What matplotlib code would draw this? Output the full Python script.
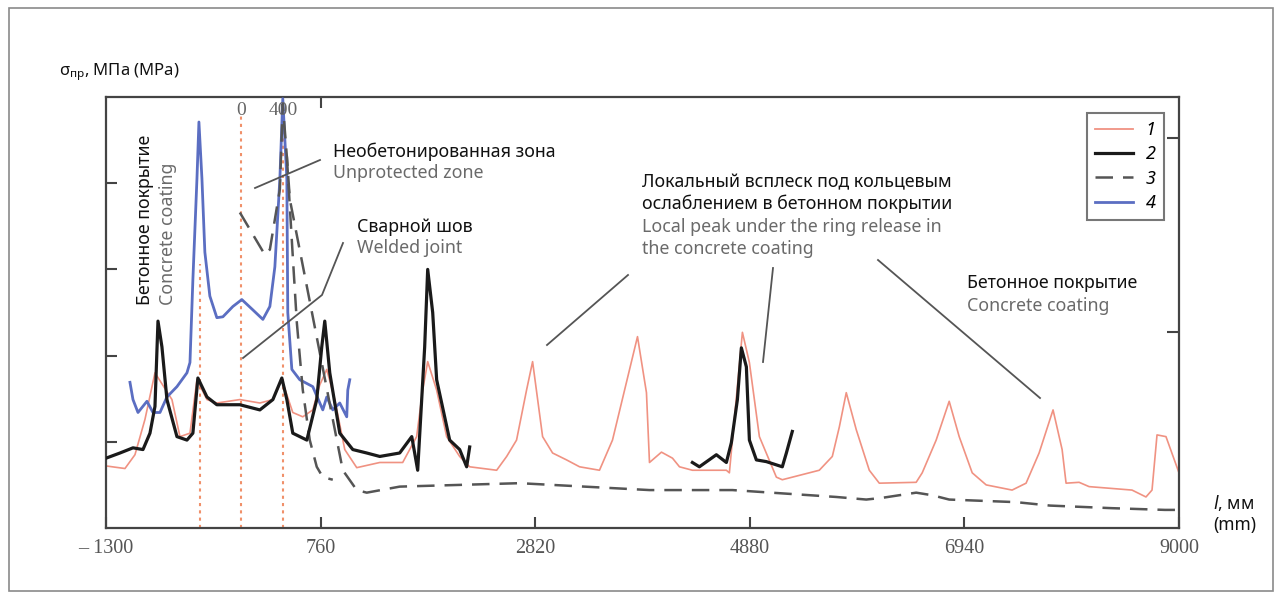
import matplotlib
matplotlib.use('Agg')
import matplotlib.pyplot as plt
from matplotlib.lines import Line2D
from matplotlib.patches import Rectangle

plt.rcParams['font.family'] = ['Noto Sans', 'DejaVu Sans']

# ---------------- data (x in mm, stress in relative units) ----------------
x1 = [-1300, -1118, -1022, -926, -830, -667, -590, -494, -427, -331, -236, -15, 177, 302, 388,
      493, 589, 685, 752, 819, 896, 992, 1107, 1328, 1548, 1682, 1740, 1788, 1874, 1970,
      2095, 2191, 2450, 2546, 2641, 2737, 2795, 2891, 2987, 3121, 3246, 3437, 3562, 3696,
      3802, 3888, 3917, 4032, 4138, 4205, 4329, 4655, 4684, 4809, 4876, 4972, 5135, 5192,
      5547, 5672, 5739, 5806, 5902, 6027, 6123, 6477, 6535, 6669, 6794, 6890, 7015, 7149,
      7398, 7532, 7657, 7791, 7878, 7916, 8041, 8137, 8549, 8683, 8741, 8789, 8875, 9000]
y1 = [0.72, 0.69, 0.85, 1.26, 1.80, 1.49, 1.06, 1.10, 1.72, 1.49, 1.45, 1.49, 1.45, 1.49, 1.72,
      1.34, 1.29, 1.37, 1.66, 1.84, 1.49, 0.91, 0.70, 0.76, 0.76, 1.06, 1.60, 1.93, 1.60, 1.06,
      0.83, 0.71, 0.67, 0.83, 1.02, 1.60, 1.93, 1.06, 0.87, 0.79, 0.71, 0.67, 1.02, 1.69,
      2.22, 1.57, 0.76, 0.88, 0.81, 0.71, 0.67, 0.67, 0.64, 2.27, 1.92, 1.06, 0.59, 0.56,
      0.67, 0.83, 1.17, 1.57, 1.14, 0.67, 0.52, 0.53, 0.64, 1.02, 1.47, 1.06, 0.64, 0.50,
      0.44, 0.52, 0.87, 1.37, 0.91, 0.52, 0.53, 0.48, 0.44, 0.36, 0.44, 1.08, 1.06, 0.64]

x2a = [-1300, -1166, -1041, -945, -878, -830, -801, -763, -715, -619, -523, -466, -418, -331,
       -236, -15, 177, 302, 388, 436, 493, 628, 723, 771, 800, 848, 944, 1069, 1203, 1328,
       1519, 1635, 1663, 1692, 1759, 1788, 1836, 1874, 1999, 2095, 2162, 2191]
y2a = [0.81, 0.87, 0.93, 0.91, 1.10, 1.41, 2.40, 2.10, 1.49, 1.06, 1.02, 1.10, 1.74, 1.52,
       1.43, 1.43, 1.37, 1.49, 1.74, 1.49, 1.10, 1.02, 1.49, 2.10, 2.40, 1.80, 1.10, 0.91, 0.87, 0.83,
       0.87, 1.06, 0.87, 0.67, 2.10, 3.00, 2.50, 1.72, 1.02, 0.91, 0.71, 0.94]
x2b = [4329, 4396, 4559, 4655, 4703, 4761, 4799, 4847, 4876, 4943, 5039, 5192, 5231, 5288]
y2b = [0.76, 0.71, 0.85, 0.76, 0.99, 1.49, 2.09, 1.87, 1.02, 0.79, 0.77, 0.71, 0.87, 1.12]

# curve 3: main trace and the second (steeper) descending branch after the 400 mm peak
x3 = [-15, 225, 273, 369, 397, 436, 465, 656, 848, 973, 1107, 1203, 1519,
      2670, 3917, 4713, 5710, 5998, 6151, 6477, 6631, 6794, 7436, 7763, 8357, 8865, 9000]
y3 = [3.66, 3.17, 3.23, 3.93, 4.92, 4.31, 3.81, 2.63, 1.44, 0.67, 0.44, 0.41, 0.48,
      0.52, 0.44, 0.44, 0.36, 0.33, 0.35, 0.41, 0.38, 0.33, 0.30, 0.26, 0.23, 0.21, 0.21]
x3_branch = [436, 493, 532, 589, 656, 723, 781, 877]
y3_branch = [4.31, 3.15, 2.38, 1.60, 1.02, 0.71, 0.59, 0.56]

x4 = [-1070, -1041, -993, -907, -849, -782, -715, -619, -523, -494, -466, -427, -408, -379,
      -351, -303, -236, -178, -82, 4, 110, 206, 273, 321, 369, 397, 436, 445, 484, 560, 685,
      781, 819, 877, 944, 1011, 1021, 1040]
y4 = [1.69, 1.49, 1.34, 1.47, 1.34, 1.34, 1.52, 1.64, 1.80, 1.92, 2.88, 4.05, 4.71, 4.05,
      3.20, 2.69, 2.44, 2.45, 2.57, 2.65, 2.53, 2.42, 2.57, 3.03, 4.05, 4.98, 4.05, 2.50, 1.84,
      1.72, 1.64, 1.37, 1.52, 1.37, 1.45, 1.29, 1.60, 1.72]

marker_x = [-400, 0, 400]
marker_top = [3.06, 4.78, 4.78]
marker_labels = ['0', '400']

x_ticks = [-1300, 760, 2820, 4880, 6940, 9000]
x_tick_labels = ['– 1300', '760', '2820', '4880', '6940', '9000']
series_labels = ['1', '2', '3', '4']

# ---------------- figure ----------------
W, H = 1281, 599
fig = plt.figure(figsize=(W / 100, H / 100), dpi=100)


def fx(px):
    return px / W


def fy(py):
    return 1 - py / H


fig.add_artist(Rectangle((fx(9), fy(591)), fx(1273) - fx(9), fy(8) - fy(591),
                         transform=fig.transFigure, fill=False, edgecolor='#8a8a8a', lw=1.2))

ax = fig.add_axes([fx(106), fy(528), fx(1179) - fx(106), fy(97) - fy(528)])
ax.set_xlim(-1300, 9000)
ax.set_ylim(0, 5)

c_red = '#f09282'
c_blue = '#5b6ec2'
c_black = '#1a1a1a'
c_dash = '#555555'
ax.vlines(marker_x, 0, marker_top, colors='#f0906a', linestyles=(0, (1.5, 2)), lw=1.5, zorder=1)
ax.plot(x1, y1, color=c_red, lw=1.2, zorder=2)
ax.plot(x4, y4, color=c_blue, lw=2.0, zorder=3)
ax.plot(x3, y3, color=c_dash, lw=1.8, dashes=(7, 4), zorder=4)
ax.plot(x3_branch, y3_branch, color=c_dash, lw=1.8, dashes=(7, 4), zorder=4)
ax.plot(x2a, y2a, color=c_black, lw=2.3, zorder=5)
ax.plot(x2b, y2b, color=c_black, lw=2.3, zorder=5)

for xv, lab in zip(marker_x[1:], marker_labels):
    ax.text(xv, 4.84, lab, ha='center', va='center', fontsize=14,
            family='Liberation Serif', color='#666666')

for s in ax.spines.values():
    s.set_color('#444444')
    s.set_linewidth(1.6)

ax.set_xticks(x_ticks)
ax.set_xticklabels(x_tick_labels, family='Liberation Serif', fontsize=14.5, color='#555555')
ax.set_yticks([1, 2, 3, 4])
ax.set_yticklabels([])
ax.tick_params(axis='both', direction='in', length=8, width=1.5, color='#444444', pad=8)

top = ax.secondary_xaxis('top')
top.set_xticks([760])
top.set_xticklabels([])
top.tick_params(direction='in', length=8, width=1.5, color='#444444')
top.spines['top'].set_visible(False)

ax2 = ax.twinx()
ax2.set_ylim(0, 5)
ax2.set_yticks([2.27, 4.53])
ax2.set_yticklabels([])
ax2.tick_params(axis='y', direction='in', length=9, width=1.5, color='#444444')
for s in ax2.spines.values():
    s.set_visible(False)

handles = [Line2D([], [], color=c_red, lw=1.3),
           Line2D([], [], color=c_black, lw=2.3),
           Line2D([], [], color=c_dash, lw=1.8, dashes=(7, 4)),
           Line2D([], [], color=c_blue, lw=2.0)]
leg = ax2.legend(handles, series_labels, loc='upper right',
                 bbox_to_anchor=(fx(1164), fy(113)), bbox_transform=fig.transFigure,
                 frameon=True, fancybox=False, handlelength=2.1, labelspacing=0.35,
                 borderaxespad=0, borderpad=0.45, handletextpad=0.7,
                 prop={'style': 'italic', 'size': 13})
leg.get_frame().set_edgecolor('#555555')
leg.get_frame().set_linewidth(1.5)

# ---------------- text ----------------
black = '#111111'
grey = '#6a6a6a'
fs = 12.8
fig.text(fx(59), fy(72), r'$\mathregular{σ_{пр}}$, МПа (MPa)', fontsize=12, color=black,
         va='center', ha='left')

fig.text(fx(145), fy(305), 'Бетонное покрытие', rotation=90, fontsize=fs, color=black,
         ha='center', va='bottom')
fig.text(fx(168), fy(305), 'Concrete coating', rotation=90, fontsize=fs, color=grey,
         ha='center', va='bottom')

fig.text(fx(333), fy(152), 'Необетонированная зона', fontsize=fs, color=black, va='center')
fig.text(fx(333), fy(173), 'Unprotected zone', fontsize=fs, color=grey, va='center')
fig.text(fx(357), fy(227), 'Сварной шов', fontsize=fs, color=black, va='center')
fig.text(fx(357), fy(248), 'Welded joint', fontsize=fs, color=grey, va='center')

fig.text(fx(642), fy(182), 'Локальный всплеск под кольцевым', fontsize=fs, color=black, va='center')
fig.text(fx(642), fy(204), 'ослаблением в бетонном покрытии', fontsize=fs, color=black, va='center')
fig.text(fx(642), fy(227), 'Local peak under the ring release in', fontsize=fs, color=grey, va='center')
fig.text(fx(642), fy(249), 'the concrete coating', fontsize=fs, color=grey, va='center')

fig.text(fx(967), fy(283), 'Бетонное покрытие', fontsize=fs, color=black, va='center')
fig.text(fx(967), fy(306), 'Concrete coating', fontsize=fs, color=grey, va='center')

fig.text(fx(1213), fy(503), r'$\mathit{l}$, мм', fontsize=12.5, color=black, va='center')
fig.text(fx(1213), fy(525), '(mm)', fontsize=12.5, color=black, va='center')

# leader lines (figure pixel positions)
leaders = [
    [(320, 160), (255, 188)],
    [(343, 243), (322, 295), (243, 358)],
    [(628, 275), (547, 345)],
    [(773, 268), (763, 362)],
    [(878, 260), (1040, 398)],
]
for pts in leaders:
    xs = [fx(p[0]) for p in pts]
    ys = [fy(p[1]) for p in pts]
    fig.add_artist(Line2D(xs, ys, transform=fig.transFigure, color='#555555', lw=1.3))

fig.savefig('out.png', dpi=100)
